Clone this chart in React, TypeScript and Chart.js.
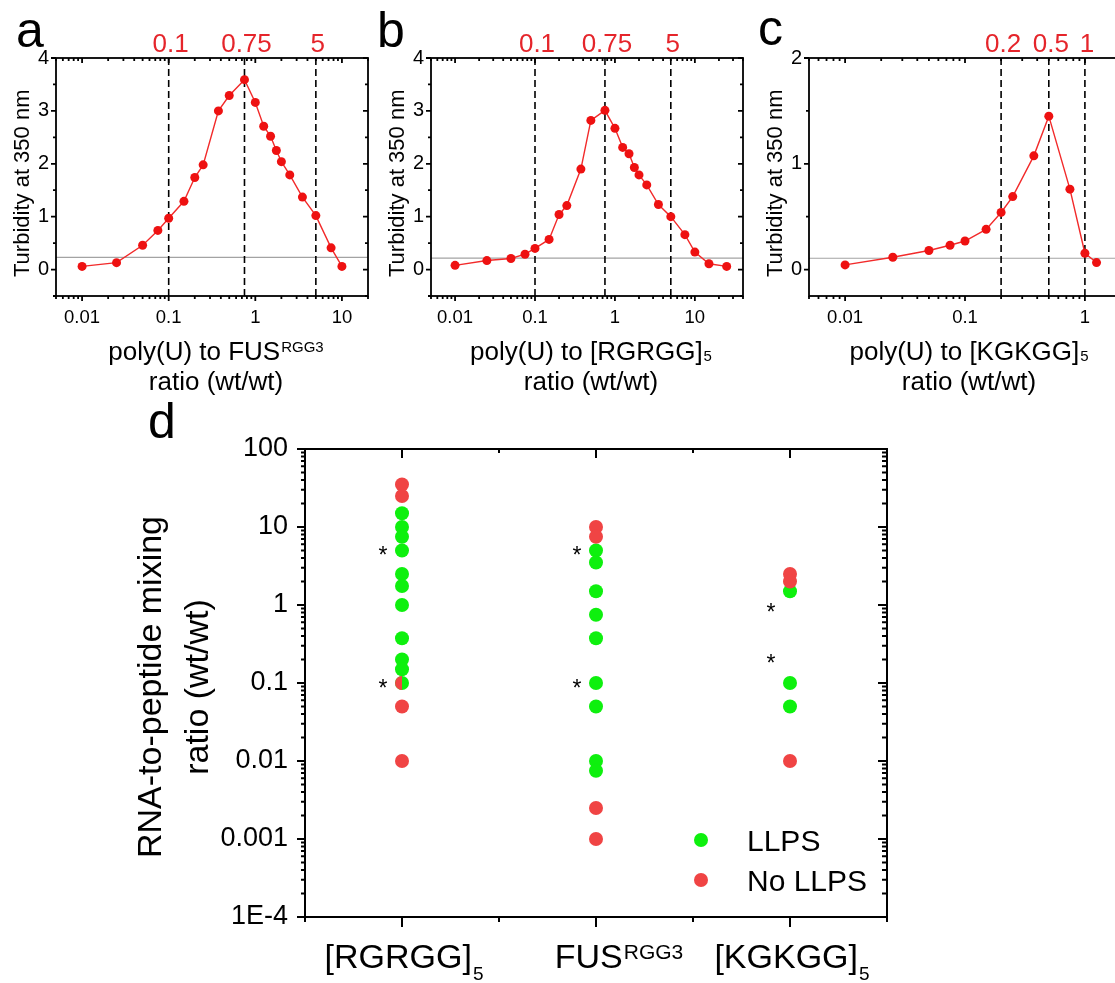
import { useEffect, useRef } from 'react';
import { Chart, registerables } from 'chart.js';

Chart.register(...registerables);

const FONT = '"Liberation Sans", Arial, Helvetica, sans-serif';
const CANVAS_W = 1140;
const CANVAS_H = 983;

// ---------------- Panel a : poly(U) to FUS-RGG3 ----------------
const ratioA = [0.01, 0.025, 0.05, 0.075, 0.1, 0.15, 0.2, 0.25, 0.375, 0.5, 0.75, 1, 1.25, 1.5, 1.75, 2, 2.5, 3.5, 5, 7.5, 10];
const turbidityA = [0.06, 0.13, 0.46, 0.74, 0.97, 1.29, 1.74, 1.98, 3.0, 3.29, 3.59, 3.16, 2.71, 2.52, 2.25, 2.04, 1.79, 1.37, 1.02, 0.41, 0.06];
const guidesA = [0.1, 0.75, 5];
const guideLabelsA = ['0.1', '0.75', '5'];
const thresholdA = 0.23;

// ---------------- Panel b : poly(U) to [RGRGG]5 ----------------
const ratioB = [0.01, 0.025, 0.05, 0.075, 0.1, 0.15, 0.2, 0.25, 0.375, 0.5, 0.75, 1, 1.25, 1.5, 1.75, 2, 2.5, 3.5, 5, 7.5, 10, 15, 25];
const turbidityB = [0.08, 0.17, 0.21, 0.29, 0.4, 0.57, 1.04, 1.21, 1.9, 2.82, 3.01, 2.67, 2.31, 2.19, 1.93, 1.79, 1.6, 1.23, 1.0, 0.66, 0.33, 0.11, 0.06];
const guidesB = [0.1, 0.75, 5];
const guideLabelsB = ['0.1', '0.75', '5'];
const thresholdB = 0.215;

// ---------------- Panel c : poly(U) to [KGKGG]5 ----------------
const ratioC = [0.01, 0.025, 0.05, 0.075, 0.1, 0.15, 0.2, 0.25, 0.375, 0.5, 0.75, 1, 1.25];
const turbidityC = [0.044, 0.116, 0.18, 0.23, 0.27, 0.38, 0.54, 0.69, 1.075, 1.45, 0.76, 0.154, 0.066];
const guidesC = [0.2, 0.5, 1];
const guideLabelsC = ['0.2', '0.5', '1'];
const thresholdC = 0.107;

// shared tick labels for a-c
const xDecadeTicks = [0.01, 0.1, 1, 10];
const xDecadeLabels = ['0.01', '0.1', '1', '10'];
const yTicksAB = [0, 1, 2, 3, 4];
const yMinorAB = [-0.5, 0.5, 1.5, 2.5, 3.5];
const yTicksC = [0, 1, 2];
const yMinorC = [0.5, 1.5];

// ---------------- Panel d : phase map ----------------
const categoryPositions = [1, 2, 3];
const categoryMinor = [0.5, 1.5, 2.5, 3.5];
const categoryBase = ['[RGRGG]', 'FUS', '[KGKGG]'];
const categoryScript = ['5', 'RGG3', '5'];
const categoryScriptKind = ['sub', 'sup', 'sub'];

const llpsRGRGG = [15, 10, 7.5, 5, 2.5, 1.75, 1, 0.375, 0.2, 0.15, 0.1];
const noLlpsRGRGG = [35, 25, 0.1, 0.05, 0.01];
const llpsFUS = [5, 3.5, 1.5, 0.75, 0.375, 0.1, 0.05, 0.01, 0.0075];
const noLlpsFUS = [10, 7.5, 0.0025, 0.001];
const llpsKGKGG = [1.5, 0.1, 0.05];
const noLlpsKGKGG = [2.5, 2, 0.01];

const asteriskCategory = [1, 1, 2, 2, 3, 3];
const asteriskRatio = [5, 0.1, 5, 0.1, 0.95, 0.21];

const yDecadesD = [1e-4, 1e-3, 1e-2, 0.1, 1, 10, 100];
const yLabelsD = ['1E-4', '0.001', '0.01', '0.1', '1', '10', '100'];

// ---------------- colours ----------------
const RED_LINE = '#F22A2A';
const RED_POINT = '#EE1111';
const RED_LABEL = '#E5252B';
const RED_D = '#F04444';
const GREEN_D = '#0EF00E';

// ---------------- helpers ----------------
function logMinor(min: number, max: number): number[] {
  const out: number[] = [];
  for (let e = Math.floor(Math.log10(min)) - 1; e <= Math.ceil(Math.log10(max)); e++) {
    for (let m = 2; m <= 9; m++) {
      const v = m * Math.pow(10, e);
      if (v >= min * 0.999 && v <= max * 1.001) out.push(v);
    }
  }
  return out;
}

type TickLen = { major: number; minor: number };
type FrameSpec = {
  xMajor: number[]; xMinor: number[]; yMajor: number[]; yMinor: number[];
  bottom: TickLen; top: TickLen; left: TickLen; right: TickLen; width: number;
};

function drawFrame(chart: any, f: FrameSpec) {
  const { ctx, chartArea: a } = chart;
  const xs = chart.scales.x;
  const ys = chart.scales.y;
  ctx.save();
  ctx.strokeStyle = '#000';
  ctx.lineWidth = f.width;
  ctx.lineCap = 'butt';
  ctx.beginPath();
  const seg = (x1: number, y1: number, x2: number, y2: number) => { ctx.moveTo(x1, y1); ctx.lineTo(x2, y2); };
  const kinds: Array<[number[], 'major' | 'minor']> = [[f.xMajor, 'major'], [f.xMinor, 'minor']];
  for (const [vals, k] of kinds) {
    for (const v of vals) {
      const p = xs.getPixelForValue(v);
      if (p < a.left - 0.5 || p > a.right + 0.5) continue;
      seg(p, a.bottom, p, a.bottom + f.bottom[k]);
      seg(p, a.top, p, a.top - f.top[k]);
    }
  }
  const ykinds: Array<[number[], 'major' | 'minor']> = [[f.yMajor, 'major'], [f.yMinor, 'minor']];
  for (const [vals, k] of ykinds) {
    for (const v of vals) {
      const p = ys.getPixelForValue(v);
      if (p < a.top - 0.5 || p > a.bottom + 0.5) continue;
      seg(a.left, p, a.left - f.left[k], p);
      seg(a.right, p, a.right + f.right[k], p);
    }
  }
  ctx.stroke();
  ctx.strokeRect(a.left, a.top, a.right - a.left, a.bottom - a.top);
  ctx.restore();
}

function drawScripted(ctx: any, base: string, script: string, kind: string, cx: number, baseline: number, baseSize: number, scriptSize: number, drop: number) {
  ctx.save();
  ctx.fillStyle = '#000';
  ctx.textAlign = 'left';
  ctx.textBaseline = 'alphabetic';
  ctx.font = `${baseSize}px ${FONT}`;
  const wb = ctx.measureText(base).width;
  ctx.font = `${scriptSize}px ${FONT}`;
  const ws = ctx.measureText(script).width;
  const gap = 1;
  const start = cx - (wb + gap + ws) / 2;
  ctx.font = `${baseSize}px ${FONT}`;
  ctx.fillText(base, start, baseline);
  ctx.font = `${scriptSize}px ${FONT}`;
  const sy = kind === 'sup' ? baseline - 0.716 * (baseSize - scriptSize) : baseline + drop;
  ctx.fillText(script, start + wb + gap, sy);
  ctx.restore();
}

// ---------------- turbidity panels ----------------
type TurbPanel = {
  id: string; letter: string; letterX: number; letterY: number;
  box: { left: number; top: number; right: number; bottom: number };
  xMin: number; xMax: number; yMin: number; yMax: number;
  ratio: number[]; turbidity: number[]; guides: number[]; guideLabels: string[]; threshold: number;
  yTicks: number[]; yMinor: number[];
  titleBase: string; titleScript: string; titleKind: string; titleScriptSize: number; titleDrop: number;
};

function turbidityConfig(p: TurbPanel) {
  const Y_W = 45;
  const X_H = 40;
  const xTicks = xDecadeTicks.filter((v) => v >= p.xMin && v <= p.xMax);
  const plugin = {
    id: 'deco' + p.id,
    beforeDatasetsDraw(chart: any) {
      const { ctx, chartArea: a, scales } = chart;
      ctx.save();
      ctx.strokeStyle = '#A3A3A3';
      ctx.lineWidth = 1.2;
      const ty = scales.y.getPixelForValue(p.threshold);
      ctx.beginPath();
      ctx.moveTo(a.left, ty);
      ctx.lineTo(a.right, ty);
      ctx.stroke();
      ctx.strokeStyle = '#000';
      ctx.lineWidth = 1.6;
      ctx.setLineDash([7, 4]);
      for (const g of p.guides) {
        const gx = scales.x.getPixelForValue(g);
        ctx.beginPath();
        ctx.moveTo(gx, a.top);
        ctx.lineTo(gx, a.bottom);
        ctx.stroke();
      }
      ctx.restore();
    },
    afterDraw(chart: any) {
      const { ctx, chartArea: a, scales } = chart;
      drawFrame(chart, {
        xMajor: xDecadeTicks, xMinor: logMinor(p.xMin, p.xMax),
        yMajor: p.yTicks, yMinor: p.yMinor,
        bottom: { major: 5, minor: 3 }, top: { major: -5, minor: -3 },
        left: { major: 5, minor: 3 }, right: { major: -5, minor: -3 },
        width: 1.8,
      });
      ctx.save();
      // red guide labels
      ctx.fillStyle = RED_LABEL;
      ctx.font = `26px ${FONT}`;
      ctx.textAlign = 'center';
      ctx.textBaseline = 'alphabetic';
      p.guides.forEach((g, i) => {
        ctx.fillText(p.guideLabels[i], scales.x.getPixelForValue(g) + 2, a.top - 6);
      });
      // panel letter
      ctx.fillStyle = '#000';
      ctx.textAlign = 'left';
      ctx.font = `50px ${FONT}`;
      ctx.fillText(p.letter, p.letterX, p.letterY);
      // y title
      ctx.save();
      ctx.translate(a.left - 27, a.bottom - 19);
      ctx.rotate(-Math.PI / 2);
      ctx.font = `22px ${FONT}`;
      ctx.textAlign = 'left';
      ctx.fillText('Turbidity at 350 nm', 0, 0);
      ctx.restore();
      ctx.restore();
      // x title
      const cx = (a.left + a.right) / 2 + 4;
      drawScripted(ctx, p.titleBase, p.titleScript, p.titleKind, cx, a.bottom + 64, 26, p.titleScriptSize, p.titleDrop);
      ctx.save();
      ctx.fillStyle = '#000';
      ctx.font = `26px ${FONT}`;
      ctx.textAlign = 'center';
      ctx.fillText('ratio (wt/wt)', cx, a.bottom + 94);
      ctx.restore();
    },
  };

  return {
    type: 'scatter',
    data: {
      datasets: [
        {
          label: 'Turbidity',
          data: p.ratio.map((x, i) => ({ x, y: p.turbidity[i] })),
          showLine: true,
          borderColor: RED_LINE,
          borderWidth: 1.4,
          pointRadius: 4.5,
          pointHoverRadius: 4.5,
          pointBackgroundColor: RED_POINT,
          pointBorderWidth: 0,
        },
      ],
    },
    options: {
      responsive: false,
      animation: false,
      devicePixelRatio: 1,
      layout: {
        padding: {
          left: p.box.left - Y_W,
          top: p.box.top,
          right: CANVAS_W - p.box.right,
          bottom: CANVAS_H - p.box.bottom - X_H,
        },
      },
      plugins: { legend: { display: false }, tooltip: { enabled: false } },
      scales: {
        x: {
          type: 'logarithmic',
          min: p.xMin,
          max: p.xMax,
          grid: { display: false, drawTicks: false },
          border: { display: false },
          afterBuildTicks: (s: any) => { s.ticks = xTicks.map((value) => ({ value })); },
          ticks: {
            autoSkip: false,
            maxRotation: 0,
            padding: 11,
            color: '#000',
            font: { family: FONT, size: 18.5 },
            callback: (v: any) => xDecadeLabels[xDecadeTicks.indexOf(Number(v))] ?? '',
          },
          afterFit: (s: any) => { s.height = X_H; },
        },
        y: {
          type: 'linear',
          min: p.yMin,
          max: p.yMax,
          grid: { display: false, drawTicks: false },
          border: { display: false },
          afterBuildTicks: (s: any) => { s.ticks = p.yTicks.map((value) => ({ value })); },
          ticks: {
            padding: 7,
            color: '#000',
            font: { family: FONT, size: 20 },
            callback: (v: any) => String(v),
          },
          afterFit: (s: any) => { s.width = Y_W; },
        },
      },
    },
    plugins: [plugin],
  };
}

const panelA: TurbPanel = {
  id: 'a', letter: 'a', letterX: 16, letterY: 47,
  box: { left: 56, top: 58, right: 368, bottom: 296 },
  xMin: 0.005, xMax: 20, yMin: -0.5, yMax: 4,
  ratio: ratioA, turbidity: turbidityA, guides: guidesA, guideLabels: guideLabelsA, threshold: thresholdA,
  yTicks: yTicksAB, yMinor: yMinorAB,
  titleBase: 'poly(U) to FUS', titleScript: 'RGG3', titleKind: 'sup', titleScriptSize: 15, titleDrop: 0,
};
const panelB: TurbPanel = {
  id: 'b', letter: 'b', letterX: 377, letterY: 47,
  box: { left: 431, top: 58, right: 743, bottom: 296 },
  xMin: 0.005, xMax: 40, yMin: -0.5, yMax: 4,
  ratio: ratioB, turbidity: turbidityB, guides: guidesB, guideLabels: guideLabelsB, threshold: thresholdB,
  yTicks: yTicksAB, yMinor: yMinorAB,
  titleBase: 'poly(U) to [RGRGG]', titleScript: '5', titleKind: 'sub', titleScriptSize: 15, titleDrop: 1,
};
const panelC: TurbPanel = {
  id: 'c', letter: 'c', letterX: 758, letterY: 45,
  box: { left: 809, top: 58, right: 1121, bottom: 296 },
  xMin: 0.005, xMax: 2, yMin: -0.25, yMax: 2,
  ratio: ratioC, turbidity: turbidityC, guides: guidesC, guideLabels: guideLabelsC, threshold: thresholdC,
  yTicks: yTicksC, yMinor: yMinorC,
  titleBase: 'poly(U) to [KGKGG]', titleScript: '5', titleKind: 'sub', titleScriptSize: 15, titleDrop: 1,
};

// ---------------- panel d ----------------
function phaseConfig() {
  const Y_W = 140;
  const X_H = 60;
  const box = { left: 305, top: 449, right: 887, bottom: 917 };
  const llpsSets = [llpsRGRGG, llpsFUS, llpsKGKGG];
  const noSets = [noLlpsRGRGG, noLlpsFUS, noLlpsKGKGG];
  const toPoints = (sets: number[][]) =>
    sets.flatMap((vals, ci) => vals.map((y) => ({ x: categoryPositions[ci], y, ci })));

  // left-half marker for conditions that are in both classes
  const R = 7;
  const half = document.createElement('canvas');
  half.width = 2 * R;
  half.height = 2 * R;
  const hctx = half.getContext('2d')!;
  hctx.fillStyle = RED_D;
  hctx.beginPath();
  hctx.moveTo(R, 0);
  hctx.arc(R, R, R, -Math.PI / 2, Math.PI / 2, true);
  hctx.closePath();
  hctx.fill();

  const plugin = {
    id: 'decoD',
    afterDraw(chart: any) {
      const { ctx, chartArea: a, scales } = chart;
      drawFrame(chart, {
        xMajor: categoryPositions, xMinor: categoryMinor,
        yMajor: yDecadesD, yMinor: logMinor(1e-4, 100),
        bottom: { major: 10, minor: 5 }, top: { major: -9, minor: -4 },
        left: { major: 8, minor: 4 }, right: { major: -9, minor: -5 },
        width: 2,
      });
      ctx.save();
      ctx.fillStyle = '#000';
      // letter
      ctx.font = `50px ${FONT}`;
      ctx.textAlign = 'left';
      ctx.textBaseline = 'alphabetic';
      ctx.fillText('d', 148, 438);
      // y title (two lines)
      const cy = (a.top + a.bottom) / 2 + 4;
      ctx.font = `34px ${FONT}`;
      ctx.textAlign = 'center';
      ctx.save();
      ctx.translate(161, cy);
      ctx.rotate(-Math.PI / 2);
      ctx.fillText('RNA-to-peptide mixing', 0, 0);
      ctx.restore();
      ctx.save();
      ctx.translate(208, cy);
      ctx.rotate(-Math.PI / 2);
      ctx.fillText('ratio (wt/wt)', 0, 0);
      ctx.restore();
      // asterisks
      ctx.font = `23px ${FONT}`;
      ctx.textAlign = 'center';
      asteriskCategory.forEach((c, i) => {
        const x = scales.x.getPixelForValue(c) - 19;
        const y = scales.y.getPixelForValue(asteriskRatio[i]);
        ctx.fillText('*', x, y + 13);
      });
      // legend
      const lx = a.right - 186;
      const items: Array<[string, string]> = [['LLPS', GREEN_D], ['No LLPS', RED_D]];
      items.forEach(([label, color], i) => {
        const y = a.bottom - 77 + i * 40;
        ctx.fillStyle = color;
        ctx.beginPath();
        ctx.arc(lx, y, R, 0, Math.PI * 2);
        ctx.fill();
        ctx.fillStyle = '#000';
        ctx.font = `30px ${FONT}`;
        ctx.textAlign = 'left';
        ctx.fillText(label, a.right - 140, y + 11);
      });
      ctx.restore();
      // category labels
      categoryPositions.forEach((c, i) => {
        const dx = categoryScriptKind[i] === 'sup' ? 23 : 2;
        drawScripted(ctx, categoryBase[i], categoryScript[i], categoryScriptKind[i],
          scales.x.getPixelForValue(c) + dx, a.bottom + 51, 34, categoryScriptKind[i] === 'sup' ? 21 : 19, 12);
      });
    },
  };

  return {
    type: 'scatter',
    data: {
      datasets: [
        {
          label: 'No LLPS',
          data: toPoints(noSets),
          pointRadius: R,
          pointHoverRadius: R,
          pointBackgroundColor: RED_D,
          pointBorderWidth: 0,
          pointStyle: (ctx: any) => {
            const raw = ctx.raw;
            return raw && llpsSets[raw.ci].includes(raw.y) ? half : 'circle';
          },
        },
        {
          label: 'LLPS',
          data: toPoints(llpsSets),
          pointRadius: R,
          pointHoverRadius: R,
          pointBackgroundColor: GREEN_D,
          pointBorderWidth: 0,
        },
      ],
    },
    options: {
      responsive: false,
      animation: false,
      devicePixelRatio: 1,
      layout: {
        padding: {
          left: box.left - Y_W,
          top: box.top,
          right: CANVAS_W - box.right,
          bottom: CANVAS_H - box.bottom - X_H,
        },
      },
      plugins: { legend: { display: false }, tooltip: { enabled: false } },
      scales: {
        x: {
          type: 'linear',
          min: 0.5,
          max: 3.5,
          grid: { display: false, drawTicks: false },
          border: { display: false },
          ticks: { display: false },
          afterFit: (s: any) => { s.height = X_H; },
        },
        y: {
          type: 'logarithmic',
          min: 1e-4,
          max: 100,
          grid: { display: false, drawTicks: false },
          border: { display: false },
          afterBuildTicks: (s: any) => { s.ticks = yDecadesD.map((value) => ({ value })); },
          ticks: {
            autoSkip: false,
            padding: 17,
            color: '#000',
            font: { family: FONT, size: 27 },
            callback: (v: any, i: number) => yLabelsD[i] ?? '',
          },
          afterFit: (s: any) => { s.width = Y_W; },
        },
      },
    },
    plugins: [plugin],
  };
}

function ChartCanvas({ make }: { make: () => any }) {
  const ref = useRef<HTMLCanvasElement>(null);
  useEffect(() => {
    const chart = new Chart(ref.current as HTMLCanvasElement, make());
    return () => chart.destroy();
  }, []);
  return (
    <canvas
      ref={ref}
      width={CANVAS_W}
      height={CANVAS_H}
      style={{ position: 'absolute', left: 0, top: 0, width: CANVAS_W, height: CANVAS_H }}
    />
  );
}

export default function App() {
  return (
    <div style={{ position: 'absolute', left: 0, top: 0, width: 1115, height: 983, overflow: 'hidden', background: '#fff' }}>
      <ChartCanvas make={() => turbidityConfig(panelA)} />
      <ChartCanvas make={() => turbidityConfig(panelB)} />
      <ChartCanvas make={() => turbidityConfig(panelC)} />
      <ChartCanvas make={phaseConfig} />
    </div>
  );
}
